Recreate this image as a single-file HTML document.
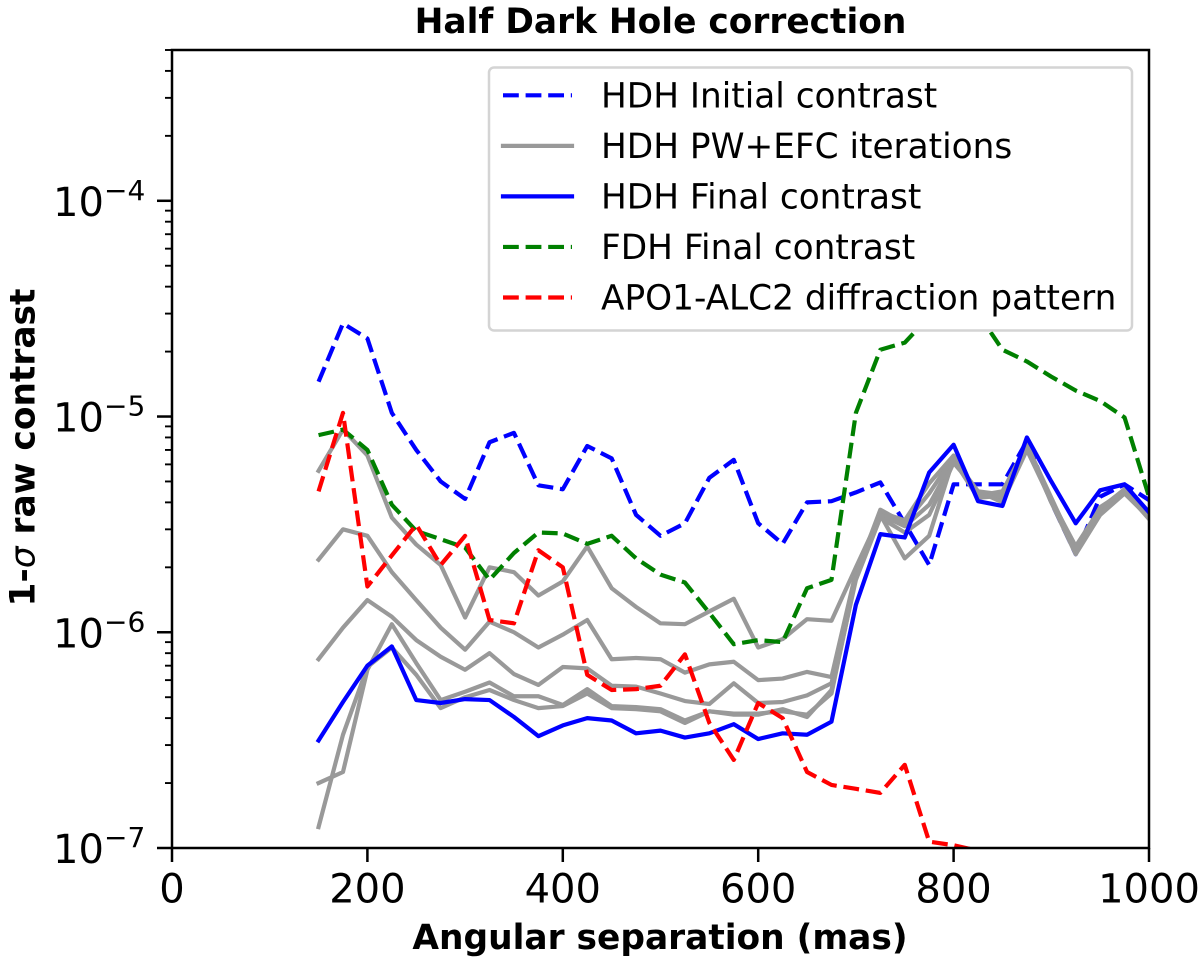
<!DOCTYPE html>
<html lang="en">
<head>
<meta charset="utf-8">
<title>Half Dark Hole correction</title>
<style>
html,body{margin:0;padding:0;background:#fff;}
svg{display:block;}
text{font-family:"DejaVu Sans","Liberation Sans",sans-serif;fill:#000;}
</style>
</head>
<body>
<svg id="chart" xmlns="http://www.w3.org/2000/svg" width="1200" height="967" viewBox="0 0 1200 967">
  <defs><clipPath id="plot-clip"><rect x="172" y="50" width="977" height="798"></rect></clipPath></defs>
  <rect x="0" y="0" width="1200" height="967" fill="#fff"></rect>
  <text x="660.5" y="33" font-size="34.4" font-weight="700" text-anchor="middle">Half Dark Hole correction</text>
  <text x="660" y="949" font-size="34.4" font-weight="700" text-anchor="middle">Angular separation (mas)</text>
  <text transform="translate(34.3 447.5) rotate(-90)" font-size="34.4" font-weight="700" text-anchor="middle">1-<tspan font-style="italic" font-weight="400">σ</tspan> raw contrast</text>
  <g id="series-layer" clip-path="url(#plot-clip)"></g>
  <g id="axes-layer"></g>
  <g id="legend">
    <rect x="489" y="67.5" width="643" height="263" rx="5" ry="5" fill="#fff" stroke="#d4d4d4" stroke-width="2.5"></rect>
    <g id="legend-entries"></g>
  </g>
</svg>
<script>
const separations = [150,175,200,225,250,275,300,325,350,375,400,425,450,475,500,525,550,575,600,625,650,675,700,725,750,775,800,825,850,875,900,925,950,975,1000];
const hdhInitial = [1.45e-5,2.7e-5,2.3e-5,1.04e-5,7.0e-6,5.0e-6,4.15e-6,7.6e-6,8.4e-6,4.8e-6,4.6e-6,7.3e-6,6.4e-6,3.5e-6,2.8e-6,3.2e-6,5.2e-6,6.3e-6,3.2e-6,2.57e-6,4.0e-6,4.05e-6,4.45e-6,4.95e-6,3.2e-6,2.05e-6,4.85e-6,4.85e-6,4.85e-6,7.7e-6,4.0e-6,2.3e-6,4.25e-6,4.85e-6,4.1e-6];
const iteration1 = [5.6e-6,8.7e-6,6.6e-6,3.4e-6,2.55e-6,2.05e-6,1.17e-6,2.0e-6,1.9e-6,1.48e-6,1.72e-6,2.5e-6,1.6e-6,1.31e-6,1.1e-6,1.09e-6,1.25e-6,1.43e-6,8.5e-7,9.3e-7,1.15e-6,1.13e-6,2.0e-6,3.5e-6,2.2e-6,2.8e-6,6.4e-6,4.5e-6,4.35e-6,7.3e-6,4.0e-6,2.5e-6,3.75e-6,4.6e-6,3.45e-6];
const iteration2 = [2.17e-6,3.0e-6,2.8e-6,1.9e-6,1.41e-6,1.05e-6,8.3e-7,1.12e-6,1.0e-6,8.5e-7,9.75e-7,1.14e-6,7.5e-7,7.6e-7,7.5e-7,6.5e-7,7.1e-7,7.3e-7,6.0e-7,6.1e-7,6.55e-7,6.2e-7,1.9e-6,3.6e-6,3.3e-6,4.9e-6,6.6e-6,4.3e-6,4.5e-6,7.4e-6,4.2e-6,2.4e-6,3.6e-6,4.5e-6,3.5e-6];
const iteration3 = [7.5e-7,1.05e-6,1.41e-6,1.18e-6,9.2e-7,7.7e-7,6.7e-7,8.0e-7,6.4e-7,5.7e-7,6.9e-7,6.8e-7,5.65e-7,5.6e-7,5.2e-7,4.8e-7,4.65e-7,5.8e-7,4.7e-7,4.75e-7,5.1e-7,5.8e-7,1.85e-6,3.7e-6,3.2e-6,4.4e-6,6.5e-6,4.4e-6,4.2e-6,7.2e-6,4.1e-6,2.5e-6,3.7e-6,4.6e-6,3.4e-6];
const iteration4 = [2.0e-7,2.25e-7,6.7e-7,1.09e-6,7.2e-7,4.85e-7,5.3e-7,5.85e-7,5.05e-7,5.05e-7,4.6e-7,5.45e-7,4.55e-7,4.5e-7,4.4e-7,3.9e-7,4.3e-7,4.2e-7,4.2e-7,4.3e-7,4.15e-7,5.2e-7,1.8e-6,3.5e-6,3.1e-6,3.9e-6,6.3e-6,4.2e-6,4.3e-6,7.3e-6,4.0e-6,2.3e-6,3.5e-6,4.4e-6,3.4e-6];
const iteration5 = [1.25e-7,3.35e-7,6.9e-7,8.5e-7,6.35e-7,4.45e-7,5.0e-7,5.4e-7,4.85e-7,4.45e-7,4.55e-7,5.2e-7,4.45e-7,4.4e-7,4.3e-7,3.8e-7,4.3e-7,4.15e-7,4.15e-7,4.4e-7,4.05e-7,5.4e-7,1.75e-6,3.4e-6,2.9e-6,3.5e-6,6.1e-6,4.5e-6,4.0e-6,7.0e-6,4.05e-6,2.35e-6,3.8e-6,4.5e-6,3.35e-6];
const hdhFinal = [3.15e-7,4.75e-7,7.0e-7,8.6e-7,4.85e-7,4.7e-7,4.9e-7,4.85e-7,4.05e-7,3.3e-7,3.7e-7,4.0e-7,3.9e-7,3.4e-7,3.5e-7,3.25e-7,3.4e-7,3.75e-7,3.2e-7,3.4e-7,3.35e-7,3.85e-7,1.34e-6,2.85e-6,2.75e-6,5.5e-6,7.4e-6,4.05e-6,3.85e-6,8.0e-6,5.0e-6,3.2e-6,4.55e-6,4.85e-6,3.6e-6];
const fdhFinal = [8.2e-6,8.7e-6,7.0e-6,3.9e-6,2.95e-6,2.7e-6,2.47e-6,1.75e-6,2.33e-6,2.9e-6,2.87e-6,2.57e-6,2.8e-6,2.2e-6,1.85e-6,1.7e-6,1.23e-6,8.8e-7,9.2e-7,9.0e-7,1.6e-6,1.75e-6,1.04e-5,2.04e-5,2.2e-5,2.9e-5,3.2e-5,3.0e-5,2.04e-5,1.8e-5,1.53e-5,1.32e-5,1.18e-5,9.9e-6,4.25e-6];
const diffraction = [4.5e-6,1.04e-5,1.63e-6,2.27e-6,3.15e-6,2.05e-6,2.8e-6,1.14e-6,1.1e-6,2.4e-6,2.0e-6,6.35e-7,5.4e-7,5.45e-7,5.65e-7,7.9e-7,3.8e-7,2.56e-7,4.7e-7,4.0e-7,2.25e-7,1.96e-7,1.88e-7,1.8e-7,2.43e-7,1.07e-7,1.03e-7,9.7e-8,9.0e-8,8.5e-8,8.0e-8,7.5e-8,7.0e-8,6.5e-8,6.0e-8];
const xTickValues = [0,200,400,600,800,1000];
const xTickLabels = ["0","200","400","600","800","1000"];
const yMajorExponents = [-7,-6,-5,-4];
const yMinorMultipliers = [2,3,4,5,6,7,8,9];
const xDomain = [0,1000];
const yDomain = [1e-7,5e-4];
const legendLabels = ["HDH Initial contrast","HDH PW+EFC iterations","HDH Final contrast","FDH Final contrast","APO1-ALC2 diffraction pattern"];

const SVG_NS = "http://www.w3.org/2000/svg";
const plot = {left:172, right:1149, top:50, bottom:848};
function xScale(v){
  return plot.left + (v - xDomain[0]) / (xDomain[1] - xDomain[0]) * (plot.right - plot.left);
}
function yScale(v){
  const lo = Math.log10(yDomain[0]), hi = Math.log10(yDomain[1]);
  return plot.bottom - (Math.log10(v) - lo) / (hi - lo) * (plot.bottom - plot.top);
}
function make(tag, parent, attrs){
  const el = document.createElementNS(SVG_NS, tag);
  for (const k in attrs) el.setAttribute(k, attrs[k]);
  parent.appendChild(el);
  return el;
}
function pointsFor(values){
  return values.map((v, i) => xScale(separations[i]).toFixed(2) + "," + yScale(v).toFixed(2)).join(" ");
}

const GRAY = "#999999", DASH = "15.8 6.8", LW = 4.2;
const seriesLayer = document.getElementById("series-layer");
function drawSeries(values, color, dashed, name){
  const line = make("polyline", seriesLayer, {
    points: pointsFor(values), fill: "none", stroke: color,
    "stroke-width": LW, "stroke-linejoin": "round",
    "stroke-linecap": dashed ? "butt" : "square"
  });
  if (dashed) line.setAttribute("stroke-dasharray", DASH);
  
  
}
drawSeries(hdhInitial, "#0000ff", true, "hdh-initial-contrast-line");
drawSeries(iteration1, GRAY, false, "pw-efc-iteration-1-line");
drawSeries(iteration2, GRAY, false, "pw-efc-iteration-2-line");
drawSeries(iteration3, GRAY, false, "pw-efc-iteration-3-line");
drawSeries(iteration4, GRAY, false, "pw-efc-iteration-4-line");
drawSeries(iteration5, GRAY, false, "pw-efc-iteration-5-line");
drawSeries(hdhFinal, "#0000ff", false, "hdh-final-contrast-line");
drawSeries(fdhFinal, "#008000", true, "fdh-final-contrast-line");
drawSeries(diffraction, "#ff0000", true, "apo1-alc2-diffraction-line");

const axes = document.getElementById("axes-layer");
xTickValues.forEach((v, i) => {
  const x = xScale(v);
  const tick = make("line", axes, {x1:x, x2:x, y1:plot.bottom, y2:plot.bottom + 14, stroke:"#000", "stroke-width":2.5});
  
  
  const label = make("text", axes, {x:x, y:902.5, "font-size":40, "text-anchor":"middle"});
  label.textContent = xTickLabels[i];
  
  
});
yMajorExponents.forEach((e) => {
  const y = yScale(Math.pow(10, e));
  const tick = make("line", axes, {x1:plot.left - 15, x2:plot.left, y1:y, y2:y, stroke:"#000", "stroke-width":2.5});
  
  
  const base = make("text", axes, {x:53, y:y + 15, "font-size":40});
  base.textContent = "10";
  
  
  const sup = make("text", axes, {x:104, y:y - 1, "font-size":28});
  sup.textContent = "\u2212" + Math.abs(e);
  
  
  yMinorMultipliers.forEach((m) => {
    const val = m * Math.pow(10, e);
    if (val > yDomain[1]) return;
    const my = yScale(val);
    const minor = make("line", axes, {x1:plot.left - 7, x2:plot.left, y1:my, y2:my, stroke:"#000", "stroke-width":1.9});
    
    
  });
});
const spine = make("rect", axes, {x:plot.left, y:plot.top, width:plot.right - plot.left, height:plot.bottom - plot.top, fill:"none", stroke:"#000", "stroke-width":2.5});



const legendEntries = document.getElementById("legend-entries");
const legendStyles = [
  {color:"#0000ff", dashed:true},
  {color:GRAY, dashed:false},
  {color:"#0000ff", dashed:false},
  {color:"#008000", dashed:true},
  {color:"#ff0000", dashed:true}
];
legendLabels.forEach((text, i) => {
  const y = 95.3 + i * 50.55;
  const handle = make("line", legendEntries, {x1:503, x2:572, y1:y, y2:y, stroke:legendStyles[i].color, "stroke-width":LW});
  if (legendStyles[i].dashed) handle.setAttribute("stroke-dasharray", DASH);
  else { handle.setAttribute("stroke-linecap", "square"); }
  
  
  const label = make("text", legendEntries, {x:601, y:y + 12, "font-size":34.3});
  label.textContent = text;
  
  
});
</script>
</body>
</html>
